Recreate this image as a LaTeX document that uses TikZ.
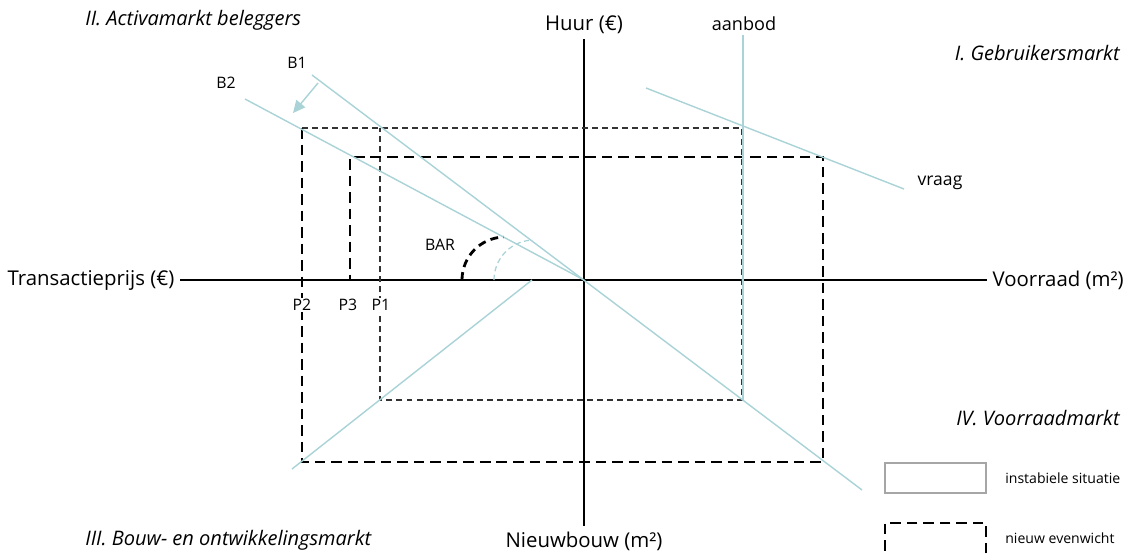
\documentclass[tikz,border=0pt]{standalone}
\usepackage{fontspec}
\setmainfont{Open Sans}
\usetikzlibrary{arrows.meta,positioning}
\definecolor{Curve}{HTML}{A9D3D6}
\definecolor{Frame}{HTML}{A6A6A6}

\tikzset{
 curve/.style={Curve,line width=0.8pt},
 oldbox/.style={black!80,line width=0.7pt,dash pattern=on 3.4pt off 2.3pt},
 newbox/.style={black,line width=1.6pt,dash pattern=on 6pt off 3.4pt},
 axislabel/.style={font=\fontsize{11.6}{13}\selectfont,inner sep=3pt},
 quadlabel/.style={font=\fontsize{11.4}{13}\selectfont\itshape,inner sep=0pt},
 tag/.style={font=\fontsize{9}{10}\selectfont,inner sep=1pt},
 legendtext/.style={font=\fontsize{8}{10}\selectfont,inner sep=0pt,anchor=west},
}

\begin{document}
\begin{tikzpicture}[x=0.02cm,y=-0.02cm,>=Stealth]
\useasboundingbox (0,0) rectangle (1134,555);
% axes
\node[axislabel,anchor=east] (tp) at (180,280) {Transactieprijs (€)};
\node[axislabel,anchor=west] (vr) at (987,280) {Voorraad (m²)};
\node[axislabel,anchor=south] (huur) at (584,39) {Huur (€)};
\node[axislabel,anchor=north] (nb) at (584,526) {Nieuwbouw (m²)};
\draw[line width=1.2pt] (tp.east) -- (vr.west);
\draw[line width=1.2pt] (huur.south) -- (nb.north);

% quadrants
\node[quadlabel,anchor=west] (q2) at (85,20) {II. Activamarkt beleggers};
\node[quadlabel,anchor=east] (q1) at (1120,53) {I. Gebruikersmarkt};
\node[quadlabel,anchor=west] (q3) at (85,540) {III. Bouw- en ontwikkelingsmarkt};
\node[quadlabel,anchor=east] (q4) at (1120,418) {IV. Voorraadmarkt};

% old situation
\draw[oldbox] (302,128) -- (742,128) -- (742,400) -- (380,400) -- (380,128);
% new equilibrium
\draw[newbox] (302,128) -- (302,462) -- (823,462) -- (823,157) -- (350,157) -- (350,280);

% curves
\coordinate (O) at (584,280);
\coordinate (b1s) at (312,75);
\coordinate (b1e) at (862,490);
\coordinate (b2s) at (245,99);
\coordinate (bws) at (292,469);
\coordinate (bwe) at (532,280);
\coordinate (aos) at (743,35);
\coordinate (aoe) at (743,400);
\coordinate (vqs) at (646,88);
\coordinate (vqe) at (904,189);
\draw[curve] (b1s) -- (b1e);
\draw[curve] (b2s) -- (O);
\draw[curve] (bws) -- (bwe);
\draw[curve] (aos) -- (aoe);
\draw[curve] (vqs) -- (vqe);
\coordinate (shs) at (318,83);
\coordinate (she) at (293,113);
\draw[curve,-{Triangle[length=7pt,width=6.5pt]}] (shs) -- (she);

% BAR
\draw[newbox,dash pattern=on 4.5pt off 3pt] (462,280) arc[start angle=180,end angle=268,radius=43];
\draw[Curve,line width=0.7pt,dash pattern=on 3pt off 2pt] (494,280) arc[start angle=180,end angle=265,radius=40];
\node[tag] (bar) at (440,245) {BAR};

% labels
\node[tag] (lb1) at (297,63) {B1};
\node[tag] (lb2) at (226,83) {B2};
\node[font=\fontsize{10.3}{12}\selectfont] (lao) at (744,24) {aanbod};
\node[font=\fontsize{10}{12}\selectfont] (lvq) at (940,183) {vraag};
\foreach \x/\n in {302/2,348/3,381/1}
 \node[tag,fill=white] (p\n) at (\x,305) {P\n};

% legend
\node[draw=Frame,line width=0.6pt,minimum width=101*0.02cm,minimum height=30*0.02cm,inner sep=0pt] (inst) at (935.5,478) {};
\node[legendtext] (linst) at (1005,478) {instabiele situatie};
\node[newbox,draw,minimum width=101*0.02cm,minimum height=45*0.02cm,inner sep=0pt] (nieuw) at (935.5,545.5) {};
\node[legendtext] (lnieuw) at (1005,538) {nieuw evenwicht};
\end{tikzpicture}
\end{document}
